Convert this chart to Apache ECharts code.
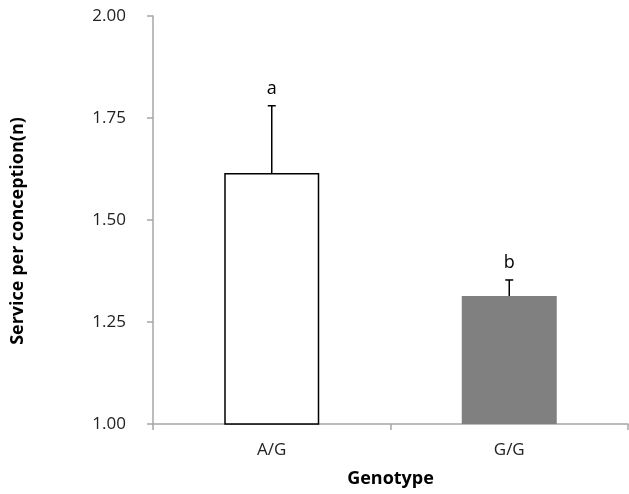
<!DOCTYPE html>
<html><head><meta charset="utf-8">
<script src="https://cdn.jsdelivr.net/npm/echarts@6/dist/echarts.min.js"></script>
<style>html,body{margin:0;padding:0;background:#fff}#c{width:629px;height:494px}</style>
</head><body><div id="c"></div>
<script>
var categories = ['A/G', 'G/G'];
var means = [1.615, 1.314];
var upperErr = [1.78, 1.353];
var letters = ['a', 'b'];
var yTicks = [1.00, 1.25, 1.50, 1.75, 2.00];

var chart = echarts.init(document.getElementById('c'));
var font = '"Open Sans", "Noto Sans", sans-serif';
chart.setOption({
  animation: false,
  grid: {left: 153, right: 1, top: 16, bottom: 70},
  xAxis: {
    type: 'category', data: categories,
    name: 'Genotype', nameLocation: 'middle', nameGap: 46,
    nameTextStyle: {fontFamily: font, fontWeight: 'bold', fontSize: 18, color: '#000'},
    axisLine: {lineStyle: {color: '#a6a6a6', width: 1.5}},
    axisTick: {show: true, length: 6, lineStyle: {color: '#a6a6a6', width: 1.5}},
    axisLabel: {fontFamily: font, fontSize: 17, color: '#222', margin: 18}
  },
  yAxis: {
    type: 'value', min: 1, max: 2, interval: 0.25,
    name: 'Service per conception(n)', nameLocation: 'middle', nameGap: 126,
    nameTextStyle: {fontFamily: font, fontWeight: 'bold', fontSize: 18, color: '#000', padding: [0, 22, 0, 0]},
    splitLine: {show: false},
    axisLine: {show: true, lineStyle: {color: '#a6a6a6', width: 1.5}},
    axisTick: {show: true, length: 6, lineStyle: {color: '#a6a6a6', width: 1.5}},
    axisLabel: {fontFamily: font, fontSize: 17, color: '#222', margin: 27,
      formatter: function (v) { return v.toFixed(2); }}
  },
  series: [{
    type: 'bar', barWidth: '40%',
    data: [
      {value: means[0], itemStyle: {color: '#fff', borderColor: '#000', borderWidth: 1.5}},
      {value: means[1], itemStyle: {color: '#808080', borderWidth: 0}}
    ]
  }, {
    type: 'custom',
    data: categories.map(function (c, i) { return [i, means[i], upperErr[i]]; }),
    renderItem: function (params, api) {
      var p0 = api.coord([api.value(0), api.value(1)]);
      var p1 = api.coord([api.value(0), api.value(2)]);
      var hw = 4;
      return {
        type: 'group',
        children: [
          {type: 'line', shape: {x1: p0[0], y1: p0[1], x2: p1[0], y2: p1[1]}, style: {stroke: '#000', lineWidth: 1.5}},
          {type: 'line', shape: {x1: p1[0] - hw, y1: p1[1], x2: p1[0] + hw, y2: p1[1]}, style: {stroke: '#000', lineWidth: 1.5}},
          {type: 'text', style: {text: letters[params.dataIndex], x: p1[0], y: p1[1] - 8,
            textAlign: 'center', textVerticalAlign: 'bottom', fontFamily: font, fontSize: 18, fill: '#000'}}
        ]
      };
    },
    z: 10
  }]
});
</script></body></html>
